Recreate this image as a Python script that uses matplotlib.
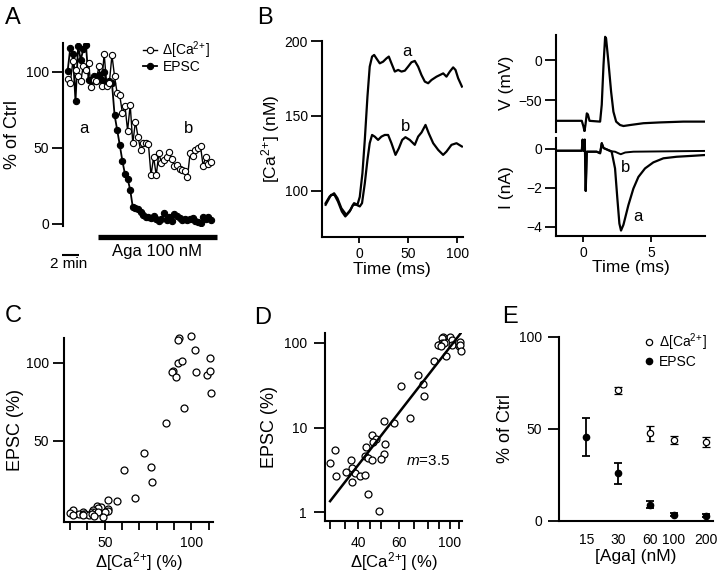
import numpy as np
import matplotlib
matplotlib.use('Agg')
import matplotlib.pyplot as plt
from matplotlib.ticker import NullLocator

plt.rcParams['font.family'] = ['Liberation Sans', 'DejaVu Sans']
plt.rcParams['mathtext.fontset'] = 'custom'
plt.rcParams['mathtext.rm'] = 'Liberation Sans'
plt.rcParams['mathtext.it'] = 'Liberation Sans:italic'
plt.rcParams['mathtext.bf'] = 'Liberation Sans:bold'

CA_LABEL = r'$\Delta$[Ca$^{2}$$^{+}$]'

# ---- Panel A: time course (% of control), one sample every 0.3 min
sample_interval = 0.3
a_ca = [95.6, 93, 107, 101, 97, 93.8, 104, 101, 106, 90, 95, 93.8, 104, 90.5,
        112, 91, 93, 111, 97, 86, 84.5, 73, 77.7, 61.4, 78.4, 53, 67.3, 57.4,
        48.6, 53, 53, 52.5, 32, 44, 32, 46.4, 40.4, 42, 44, 47.2, 43, 38.2,
        38.6, 36.4, 35.8, 34.9, 30.9, 46.4, 44.8, 48.6, 50.1, 51.2, 38.2, 44,
        39.7, 40.8]
a_epsc = [100.9, 115.9, 111.5, 80.6, 117, 108, 114.8, 118, 95, 93.8, 97, 93.8,
          98, 95, 100, 92.7, 93.8, 92.7, 71.7, 61.8, 51.9, 41.5, 32.7, 29.8,
          22.5, 11, 10.6, 9.9, 7.7, 6.0, 4.4, 4.9, 4.0, 5.5, 3.3, 2.2, 3.3, 7.5,
          2.6, 4.4, 2.2, 6.6, 5.5, 4.0, 2.9, 3.3, 2.6, 3.3, 4.0, 2.2, 1.1, 0.4,
          4.4, 3.3, 4.9, 2.6]
aga_start, aga_end = 3.5, 17.2
scale_bar_min = 2

# ---- Panel B left: [Ca2+] transients (nM)
b_ca_t_a = [-34, -30, -25.4, -22, -18, -13, -8.8, -5.1, -1.7, 0.7, 3.4, 5.8, 8.5,
            10.8, 13.2, 15.3, 17.6, 21, 24.4, 27.8, 30.2, 32.9, 36.3, 39.7, 43.1,
            46.5, 49.8, 53.2, 56.6, 60, 63.4, 66.8, 70.2, 73.6, 78.7, 82.1, 85.5,
            88.8, 92.2, 95.6, 98, 100.7, 104.5]
b_ca_a = [91.8, 96.2, 98.4, 95.1, 88.4, 84, 87.3, 91.8, 90.7, 96, 111.8, 134,
          162.9, 182.9, 189.6, 190.7, 188.4, 185.1, 186.2, 188.4, 189.6, 185.1,
          179.6, 180.7, 179.6, 180.2, 182.9, 185.8, 186.7, 182.9, 177.3, 172.9,
          171.8, 174, 176.2, 177.3, 178.4, 176.2, 179.6, 182.4, 180.7, 175.1,
          169.6]
b_ca_t_b = [-34, -28.5, -25, -21.5, -17.5, -14, -9.6, -6.2, -2.8, 0.7, 3, 5.8,
            8.5, 10.8, 13.2, 15.9, 19.3, 22.7, 26.1, 29.5, 32.9, 37, 40.4, 43.8,
            47.1, 51.5, 56.6, 60, 63.5, 67.5, 70.8, 75.3, 80.4, 85.4, 88.8, 93.9,
            99, 104.5]
b_ca_b = [90.7, 97.3, 97.3, 92.9, 86.2, 82.9, 86.2, 90.7, 90.7, 89.6, 91.8,
          105, 120.7, 131.8, 137.3, 136.2, 134, 136.2, 137.3, 137.3, 131.8, 124,
          128.4, 134, 135.8, 134, 130.7, 136.2, 139, 144, 138.4, 131.8, 127.3,
          124, 126.2, 130.7, 131.8, 129.6]

# ---- Panel B right: presynaptic spike (mV) and EPSCs (nA)
v_t = [-2.0, -0.1, 0.02, 0.1, 0.17, 0.27, 0.35, 0.47, 1.25, 1.37, 1.5, 1.62,
       1.69, 1.86, 2.06, 2.23, 2.43, 2.72, 2.97, 3.46, 4.44, 5.66, 7.38, 9.0]
v_mv = [-76, -76, -83, -89, -81, -66.7, -68, -76, -77, -56, -6.25, 29, 27, -2,
        -39.6, -64.6, -77, -81.25, -82.5, -81.25, -79, -78, -77, -77]
i_t_a = [-2.0, -0.1, -0.04, 0.04, 0.12, 0.19, 0.27, 1.0, 1.25, 1.37, 1.5, 2.1,
         2.35, 2.52, 2.67, 2.79, 2.97, 3.33, 3.7, 4.07, 4.56, 5.17, 5.91, 6.89,
         8.11, 9.0]
i_a = [-0.09, -0.09, 0.48, -0.1, 0.48, -2.16, -0.14, -0.14, -0.22, 0.3, 0.05,
       -0.14, -1.0, -2.55, -3.84, -4.2, -3.9, -2.9, -2.04, -1.44, -1.0, -0.69,
       -0.48, -0.4, -0.35, -0.31]
i_t_b = [-2.0, -0.1, -0.04, 0.04, 0.12, 0.19, 0.27, 1.0, 1.25, 1.37, 1.5, 2.1,
         2.35, 2.6, 2.77, 3.1, 3.7, 9.0]
i_b = [-0.09, -0.09, 0.48, -0.1, 0.48, -2.16, -0.14, -0.14, -0.22, 0.3, 0.05,
       -0.12, -0.14, -0.22, -0.27, -0.18, -0.14, -0.1]

# ---- Panels C/D: EPSC vs Delta[Ca2+] (both in % of control)
ca_pct = [99.8, 93.1, 92.1, 102.1, 110.7, 92.5, 94.6, 89.3, 88.7, 91.2, 102.7,
          109.2, 110.9, 111.5, 96, 85.4, 72.8, 76.8, 77.4, 61.1, 67.2, 57.1, 51.9,
          45.6, 47.9, 46.3, 43.1, 52.0, 51.6, 42.8, 44.1, 46.0, 50.0, 31.7, 30.1,
          37.2, 35.2, 37.6, 38.5, 31.8, 40.7, 42.7, 37.6, 43.9, 49.2]
epsc_pct = [117, 116, 115, 108, 103, 100, 101, 95, 94, 91, 94, 92.5, 95, 81, 71,
            61.5, 42, 33, 23.5, 31, 13, 11.5, 12, 8.2, 7.4, 6.7, 5.9, 6.4, 4.9,
            4.6, 4.4, 4.2, 4.3, 5.4, 3.8, 4.2, 3.0, 3.35, 2.9, 2.7, 2.7, 2.75,
            2.3, 1.67, 1.03]
fit_ca = [30.1, 112]
fit_epsc = [1.36, 132]

# ---- Panel E: dose dependence
e_conc_ca = [30, 60, 100, 200]
e_ca_mean = [71, 47.5, 44, 43]
e_ca_sem = [2, 4, 2, 2.7]
e_conc_epsc = [15, 30, 60, 100, 200]
e_epsc_mean = [45.5, 25.7, 8.8, 3.3, 2.8]
e_epsc_sem = [10.2, 5.6, 2, 1, 1]

W, H = 720, 575
fig = plt.figure(figsize=(W / 100, H / 100), dpi=100)


def add_ax(x0, y0, x1, y1):
    return fig.add_axes([x0 / W, 1 - y1 / H, (x1 - x0) / W, (y1 - y0) / H])


def style(ax):
    for s in ['top', 'right']:
        ax.spines[s].set_visible(False)
    for s in ['left', 'bottom']:
        ax.spines[s].set_linewidth(1.5)
    ax.tick_params(axis='y', direction='out', length=8, width=1.3, labelsize=10, pad=2)
    ax.tick_params(axis='x', direction='out', length=5, width=1.3, labelsize=10, pad=5)


def place_labels(ax, box, xlab_y=None, ylab_x=None):
    # put axis label centres at given pixel positions
    x0, y0, x1, y1 = box
    if xlab_y is not None:
        ax.xaxis.label.set_va('center')
        ax.xaxis.set_label_coords(0.5, -(xlab_y - y1) / (y1 - y0))
    if ylab_x is not None:
        ax.yaxis.label.set_va('center')
        ax.yaxis.set_label_coords(-(x0 - ylab_x) / (x1 - x0), 0.5)


def letter(x, y, s):
    fig.text(x / W, 1 - y / H, s, fontsize=17, ha='center', va='center')


# ---------------- A
box = (63, 43, 217, 225.5)
ax = add_ax(*box)
style(ax)
t = np.arange(len(a_ca)) * sample_interval
h_e, = ax.plot(t, a_epsc, '-o', color='black', lw=1.3, ms=4.5, mfc='black', mec='black', mew=0.8)
h_c, = ax.plot(t, a_ca, '-o', color='black', lw=1.0, ms=4.5, mfc='white', mec='black', mew=0.8)
ax.set_xlim(-0.54, 17.2)
ax.set_ylim(-1, 119)
ax.set_yticks([0, 50, 100])
ax.spines['bottom'].set_visible(False)
ax.set_xticks([])
ax.set_ylabel('% of Ctrl', fontsize=13)
place_labels(ax, box, ylab_x=13)
ax.text(1.9, 63, 'a', fontsize=12, ha='center', va='center')
ax.text(13.9, 63, 'b', fontsize=12, ha='center', va='center')
ax.plot([aga_start, aga_end], [-8.8, -8.8], color='black', lw=3.8, clip_on=False,
        solid_capstyle='butt')
ax.text((aga_start + aga_end) / 2 - 0.05, -18, 'Aga 100 nM', fontsize=12,
        ha='center', va='center')
ax.plot([-0.66, -0.66 + scale_bar_min], [-20.6, -20.6], color='black', lw=1.5,
        clip_on=False, solid_capstyle='butt')
ax.text(0.15, -22, '2 min', fontsize=11, ha='center', va='top')
fig.legend([h_c, h_e], [CA_LABEL, 'EPSC'], loc='upper left',
           bbox_to_anchor=(143 / W, 1 - 39 / H), frameon=False, fontsize=10,
           handlelength=1.0, handletextpad=0.4, labelspacing=-0.05,
           borderpad=0, borderaxespad=0)
letter(13, 18, 'A')

# ---------------- B left
box = (321.7, 41, 462.7, 237.3)
ax = add_ax(*box)
style(ax)
ax.plot(b_ca_t_a, b_ca_a, color='black', lw=1.6)
ax.plot(b_ca_t_b, b_ca_b, color='black', lw=1.6)
ax.set_xlim(-38, 105.3)
ax.set_ylim(69, 200)
ax.set_yticks([100, 150, 200])
ax.set_xticks([0, 50, 100])
ax.tick_params(axis='x', length=4, pad=3)
ax.set_xlabel('Time (ms)', fontsize=12.5)
ax.set_ylabel('[Ca$^{2}$$^{+}$] (nM)', fontsize=12.5)
place_labels(ax, box, xlab_y=269, ylab_x=271)
ax.text(48.5, 192.9, 'a', fontsize=12, ha='center', va='center')
ax.text(47.5, 142.9, 'b', fontsize=12, ha='center', va='center')
letter(265, 18, 'B')

# ---------------- B right, voltage
box = (556, 35, 705.3, 131.7)
ax = add_ax(*box)
style(ax)
ax.plot(v_t, v_mv, color='black', lw=1.6)
ax.set_xlim(-2, 9)
ax.set_ylim(-89.6, 31.25)
ax.set_yticks([-50, 0])
ax.spines['bottom'].set_visible(False)
ax.set_xticks([])
ax.set_ylabel('V (mV)', fontsize=12.5)
place_labels(ax, box, ylab_x=507)

# ---------------- B right, current
box = (556, 138.3, 705.3, 236)
ax = add_ax(*box)
style(ax)
ax.plot(i_t_b, i_b, color='black', lw=1.4)
ax.plot(i_t_a, i_a, color='black', lw=1.6)
ax.set_xlim(-2, 9)
ax.set_ylim(-4.48, 0.55)
ax.set_yticks([-4, -2, 0])
ax.set_xticks([0, 5])
ax.tick_params(axis='x', length=4, pad=3)
ax.set_xlabel('Time (ms)', fontsize=12.5)
ax.set_ylabel('I (nA)', fontsize=12.5)
place_labels(ax, box, xlab_y=268, ylab_x=507)
ax.text(4.04, -3.5, 'a', fontsize=12, ha='center', va='center')
ax.text(3.09, -0.93, 'b', fontsize=12, ha='center', va='center')

# ---------------- C
box = (64.3, 338, 213, 521.7)
ax = add_ax(*box)
style(ax)
ax.plot(ca_pct, epsc_pct, 'o', ms=5, mfc='white', mec='black', mew=0.9, clip_on=False)
ax.set_xlim(26.6, 112.5)
ax.set_ylim(-1.9, 116)
ax.set_yticks([50, 100])
ax.set_xticks(list(range(30, 111, 10)))
ax.set_xticklabels(['50' if v == 50 else '100' if v == 100 else '' for v in range(30, 111, 10)])
ax.tick_params(axis='x', length=6, pad=4)
ax.tick_params(axis='y', pad=3)
ax.set_xlabel(CA_LABEL + ' (%)', fontsize=12)
ax.set_ylabel('EPSC (%)', fontsize=13)
place_labels(ax, box, xlab_y=562, ylab_x=15)
letter(13, 316, 'C')

# ---------------- D
box = (325, 333, 462, 520.7)
ax = add_ax(*box)
style(ax)
ax.set_xscale('log')
ax.set_yscale('log')
ax.plot(ca_pct, epsc_pct, 'o', ms=5, mfc='white', mec='black', mew=0.9, clip_on=False)
ax.plot(fit_ca, fit_epsc, color='black', lw=1.8)
ax.set_xlim(28.6, 113)
ax.set_ylim(0.8, 131)
xt = [30, 35, 40, 45, 50, 60, 70, 80, 90, 100, 110]
ax.set_xticks(xt)
ax.set_xticklabels([str(v) if v in (40, 60, 100) else '' for v in xt])
ax.xaxis.set_minor_locator(NullLocator())
ax.set_yticks([1, 10, 100])
ax.set_yticklabels(['1', '10', '100'])
ax.yaxis.set_minor_locator(NullLocator())
ax.tick_params(axis='x', length=6, pad=5)
ax.tick_params(axis='y', pad=5)
ax.set_xlabel(CA_LABEL + ' (%)', fontsize=12)
ax.set_ylabel('EPSC (%)', fontsize=13)
place_labels(ax, box, xlab_y=562, ylab_x=270)
ax.text(80.5, 4.0, r'$m$=3.5', fontsize=11, ha='center', va='center')
letter(263, 318, 'D')

# ---------------- E
box = (559, 337, 713, 520.7)
ax = add_ax(*box)
style(ax)
ax.set_xscale('log')
h_ec = ax.errorbar(e_conc_ca, e_ca_mean, yerr=e_ca_sem, fmt='o', ms=4.5,
                   mfc='white', mec='black', mew=0.9, ecolor='black',
                   elinewidth=1.3, capsize=3, capthick=1.3, clip_on=False)
h_ee = ax.errorbar(e_conc_epsc, e_epsc_mean, yerr=e_epsc_sem, fmt='o', ms=4.5,
                   mfc='black', mec='black', ecolor='black', elinewidth=1.3,
                   capsize=3, capthick=1.3, clip_on=False)
ax.set_xlim(8.3, 233)
ax.set_ylim(0, 100)
ax.set_yticks([0, 50, 100])
ax.set_xticks(e_conc_epsc)
ax.set_xticklabels([str(v) for v in e_conc_epsc])
ax.xaxis.set_minor_locator(NullLocator())
ax.tick_params(axis='x', length=0, pad=9)
ax.tick_params(axis='y', pad=4)
ax.set_xlabel('[Aga] (nM)', fontsize=12.5)
ax.set_ylabel('% of Ctrl', fontsize=13)
place_labels(ax, box, xlab_y=557, ylab_x=505)
fig.legend([h_ec[0], h_ee[0]], [CA_LABEL, 'EPSC'], loc='upper left',
           bbox_to_anchor=(645 / W, 1 - 331 / H), frameon=False, fontsize=10,
           handlelength=0.6, handletextpad=0.4, labelspacing=0.15,
           borderpad=0, borderaxespad=0)
letter(510, 317, 'E')

fig.savefig('out.png', dpi=100)
